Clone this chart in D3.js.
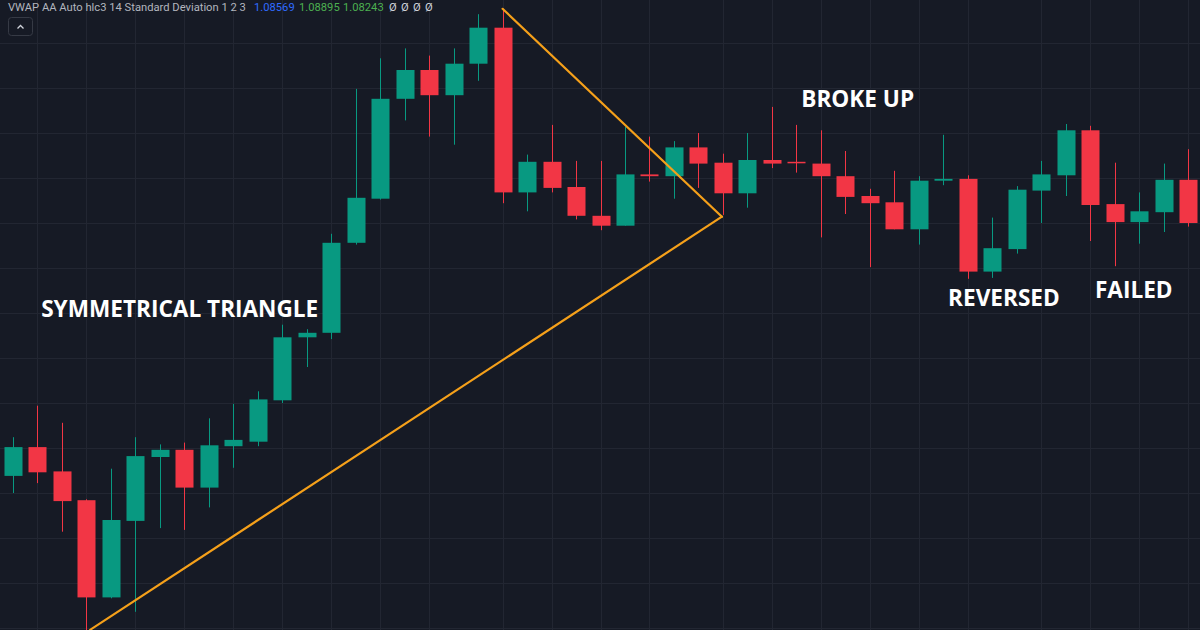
<!DOCTYPE html>
<html>
<head>
<meta charset="utf-8">
<script src="https://cdn.jsdelivr.net/npm/d3@7/dist/d3.min.js"></script>
<style>
  html, body { margin: 0; padding: 0; background: #161a25; }
  svg { display: block; }
</style>
</head>
<body>
<svg id="chart" width="1200" height="630"></svg>
<script>
// ---- DATA ----
const open  = [1.08169,1.08201,1.08174,1.08142,1.08034,1.08119,1.08190,1.08198,1.08156,1.08202,
               1.08207,1.08253,1.08323,1.08328,1.08428,1.08477,1.08588,1.08620,1.08592,1.08627,
               1.08667,1.08484,1.08518,1.08490,1.08458,1.08447,1.08504,1.08502,1.08534,1.08517,
               1.08483,1.08520,1.08518,1.08516,1.08502,1.08480,1.08473,1.08443,1.08497,1.08499,
               1.08396,1.08421,1.08486,1.08503,1.08553,1.08471,1.08451,1.08462,1.08498];
const high  = [1.08212,1.08247,1.08228,1.08143,1.08177,1.08212,1.08204,1.08206,1.08233,1.08249,
               1.08263,1.08337,1.08332,1.08438,1.08599,1.08633,1.08644,1.08636,1.08644,1.08682,
               1.08688,1.08526,1.08559,1.08519,1.08519,1.08557,1.08546,1.08541,1.08550,1.08527,
               1.08550,1.08579,1.08559,1.08553,1.08530,1.08488,1.08508,1.08502,1.08548,1.08503,
               1.08456,1.08491,1.08519,1.08560,1.08558,1.08517,1.08484,1.08516,1.08532];
const low   = [1.08150,1.08161,1.08107,1.07987,1.08033,1.08018,1.08111,1.08109,1.08134,1.08178,
               1.08202,1.08250,1.08290,1.08321,1.08426,1.08476,1.08564,1.08546,1.08537,1.08608,
               1.08472,1.08463,1.08484,1.08454,1.08442,1.08447,1.08496,1.08477,1.08489,1.08459,
               1.08467,1.08511,1.08506,1.08434,1.08460,1.08401,1.08443,1.08426,1.08492,1.08388,
               1.08389,1.08416,1.08450,1.08480,1.08430,1.08402,1.08427,1.08440,1.08446];
const close = [1.08201,1.08173,1.08141,1.08034,1.08120,1.08191,1.08198,1.08156,1.08203,1.08209,
               1.08254,1.08323,1.08328,1.08428,1.08478,1.08588,1.08620,1.08592,1.08627,1.08667,
               1.08484,1.08518,1.08489,1.08458,1.08447,1.08504,1.08502,1.08534,1.08516,1.08483,
               1.08520,1.08516,1.08517,1.08502,1.08479,1.08472,1.08443,1.08497,1.08499,1.08396,
               1.08422,1.08487,1.08504,1.08553,1.08470,1.08451,1.08463,1.08498,1.08450];
// bar indices where vertical grid lines fall (time boundaries)
const gridBars = [1,3,5,7,9,11,13,15,17,20,22,24,26,29,31,33,35,37,39,42,44,46,48];
// horizontal grid price levels
const gridPrices = [1.0800,1.0805,1.0810,1.0815,1.0820,1.0825,1.0830,1.0835,1.0840,1.0845,1.0850,1.0855,1.0860,1.0865];
// triangle trendlines (bar index, price)
const upperLine = [[20.0, 1.08688],[28.96, 1.08457]];
const lowerLine = [[3.15, 1.07998],[28.96, 1.08457]];
// annotations (anchor bar index, baseline price)
const labelText  = ["SYMMETRICAL TRIANGLE", "BROKE UP", "REVERSED", "FAILED"];
const labelBar   = [1.15, 32.2, 38.2, 44.2];
const labelPrice = [1.08346, 1.08579, 1.08358, 1.08367];
// legend line
const headerText  = ["VWAP AA Auto hlc3 14 Standard Deviation 1 2 3", "1.08569", "1.08895", "1.08243", "\u00d8", "\u00d8", "\u00d8", "\u00d8"];
const headerColor = ["#b2b5be", "#2f6bff", "#4caf50", "#4caf50", "#d1d4dc", "#d1d4dc", "#d1d4dc", "#d1d4dc"];

// ---- CHART ----
const W = 1200, H = 630;
const svg = d3.select("#chart");
const n = close.length;
const x = d3.scaleLinear().domain([0, n - 1]).range([13, 1188]);
const y = d3.scaleLinear().domain([1.0800, 1.0865]).range([628, 43]);
const UP = "#089981", DN = "#f23645";
const bodyW = 18;

svg.append("rect").attr("width", W).attr("height", H).attr("fill", "#161a25");

// grid
const g = svg.append("g");
g.selectAll("line.h").data(gridPrices).join("line")
  .attr("x1", 0).attr("x2", W)
  .attr("y1", d => Math.round(y(d)) + 0.5).attr("y2", d => Math.round(y(d)) + 0.5)
  .attr("stroke", "#222632").attr("stroke-width", 1);
g.selectAll("line.v").data(gridBars).join("line")
  .attr("y1", 0).attr("y2", H)
  .attr("x1", d => Math.round(x(d)) + 0.5).attr("x2", d => Math.round(x(d)) + 0.5)
  .attr("stroke", "#222632").attr("stroke-width", 1);

// candles
const bars = d3.range(n).map(i => ({i, o: open[i], h: high[i], l: low[i], c: close[i]}));
const cs = svg.append("g").selectAll("g").data(bars).join("g");
cs.append("line")
  .attr("x1", d => Math.round(x(d.i)) + 0.5).attr("x2", d => Math.round(x(d.i)) + 0.5)
  .attr("y1", d => y(d.h)).attr("y2", d => y(d.l))
  .attr("stroke", d => d.c >= d.o ? UP : DN).attr("stroke-width", 1);
cs.append("rect")
  .attr("x", d => Math.round(x(d.i)) + 0.5 - bodyW / 2)
  .attr("width", bodyW)
  .attr("y", d => y(Math.max(d.o, d.c)))
  .attr("height", d => Math.max(1.5, y(Math.min(d.o, d.c)) - y(Math.max(d.o, d.c))))
  .attr("fill", d => d.c >= d.o ? UP : DN);

// triangle lines
const lineGen = d3.line().x(d => x(d[0])).y(d => y(d[1]));
[upperLine, lowerLine].forEach(pts => {
  svg.append("path").attr("d", lineGen(pts))
    .attr("fill", "none").attr("stroke", "#f5a01a").attr("stroke-width", 2.2)
    .attr("stroke-linecap", "round");
});

// annotations
svg.selectAll("text.lbl").data(labelText).join("text")
  .attr("class", "lbl")
  .attr("x", (d, k) => x(labelBar[k])).attr("y", (d, k) => y(labelPrice[k]))
  .attr("fill", "#ffffff")
  .attr("font-family", "'Open Sans', sans-serif")
  .attr("font-weight", 700)
  .attr("font-size", 22.6)
  .style("paint-order", "stroke")
  .attr("stroke", "#161a25").attr("stroke-width", 1)
  .text(d => d);

// header legend
const headerX = [8, 254, 299, 343, 389, 401, 413, 425];
svg.selectAll("text.hdr").data(headerText).join("text")
  .attr("class", "hdr")
  .attr("x", (d, k) => headerX[k]).attr("y", 11)
  .attr("font-family", "Roboto, 'Open Sans', sans-serif").attr("font-size", 11.2)
  .attr("fill", (d, k) => headerColor[k])
  .text(d => d);

// collapse button
svg.append("rect").attr("x", 8.5).attr("y", 17.5).attr("width", 24).attr("height", 18).attr("rx", 3)
  .attr("fill", "#161a25").attr("stroke", "#363a45").attr("stroke-width", 1);
svg.append("path").attr("d", "M17.5,28.5 L20.5,25.5 L23.5,28.5")
  .attr("fill", "none").attr("stroke", "#d1d4dc").attr("stroke-width", 1.3);
</script>
</body>
</html>
